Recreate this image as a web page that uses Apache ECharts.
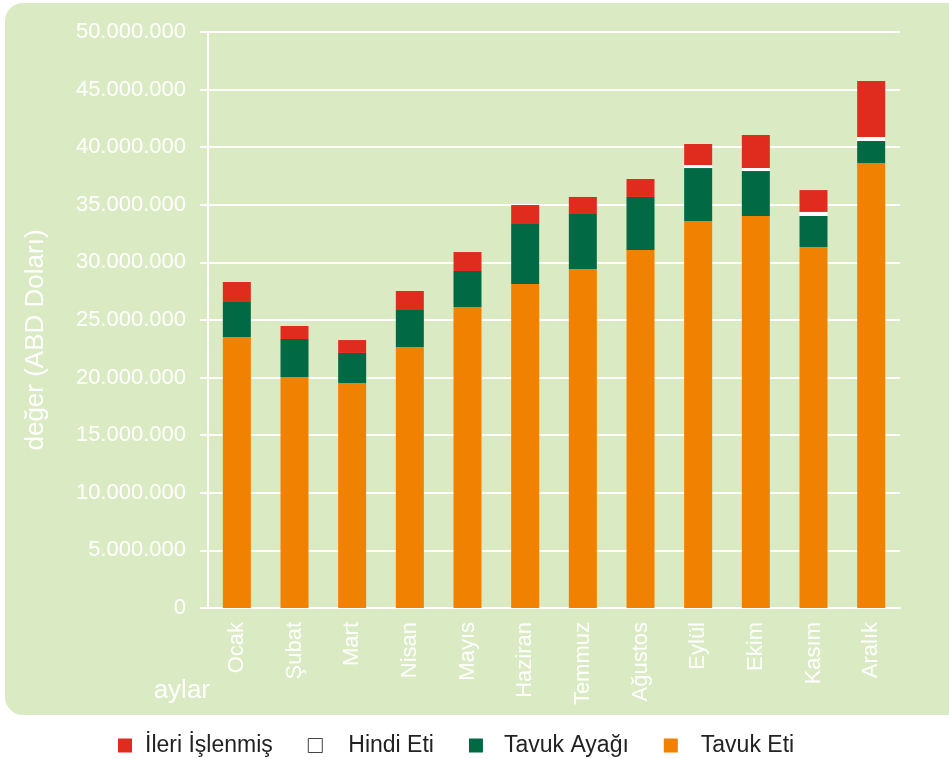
<!DOCTYPE html>
<html>
<head>
<meta charset="utf-8" />
<script src="https://cdn.jsdelivr.net/npm/echarts@6/dist/echarts.min.js"></script>
<style>
  html, body { margin: 0; padding: 0; background: #ffffff; }
  #chart-wrapper { width: 949px; height: 759px; }
</style>
</head>
<body>
<div id="chart-wrapper"></div>
<script>
// months on the x axis
const months = ["Ocak", "Şubat", "Mart", "Nisan", "Mayıs", "Haziran", "Temmuz", "Ağustos", "Eylül", "Ekim", "Kasım", "Aralık"];

// values in million USD
const tavukEti = [23.52, 20.05, 19.53, 22.66, 26.13, 28.13, 29.43, 31.08, 33.59, 34.03, 31.34, 38.63];
const tavukAyagi = [3.04, 3.30, 2.61, 3.21, 3.12, 5.20, 4.77, 4.60, 4.60, 3.90, 2.69, 1.91];
const hindiEti = [0, 0, 0, 0, 0, 0, 0, 0, 0.26, 0.26, 0.35, 0.35];
const ileriIslenmis = [1.74, 1.13, 1.12, 1.65, 1.65, 1.65, 1.48, 1.56, 1.83, 2.87, 1.90, 4.86];

const legendNames = ["İleri İşlenmiş", "Hindi Eti", "Tavuk Ayağı", "Tavuk Eti"];

// no narrow font around, so the regular one at a smaller size
const font = "'Liberation Sans', Arial, sans-serif";
const panelColor = "#daebc3";

const toUsd = (arr) => arr.map((v) => Math.round(v * 1000000));

const fmtDots = (v) => String(v).replace(/\B(?=(\d{3})+(?!\d))/g, ".");

const chartDom = document.getElementById("chart-wrapper");
const chart = echarts.init(chartDom, null, { renderer: "canvas" });

const makeSeries = (name, values, color) => ({
  name: name,
  type: "bar",
  stack: "total",
  barWidth: 28,
  data: toUsd(values),
  itemStyle: { color: color },
  emphasis: { disabled: true },
});

// legend entry with its own gap between square and text
const legendItem = (name, pad, extra) => ({
  name: name,
  textStyle: { padding: [0, 0, 0, pad] },
  ...extra,
});

const option = {
  animation: false,
  backgroundColor: "#ffffff",
  textStyle: { fontFamily: font },
  // rounded green panel behind the plot
  graphic: [
    {
      type: "rect",
      z: -10,
      shape: { x: 5, y: 3, width: 970, height: 712, r: 18 },
      style: { fill: panelColor },
    },
  ],
  grid: {
    left: 208,
    right: 49,
    top: 32,
    bottom: 151,
    containLabel: false,
  },
  legend: {
    data: [
      legendItem(legendNames[0], 8),
      legendItem(legendNames[1], 21, {
        itemStyle: { color: "#ffffff", borderColor: "#444444", borderWidth: 1 },
      }),
      legendItem(legendNames[2], 16),
      legendItem(legendNames[3], 18),
    ],
    left: 113,
    top: 729,
    icon: "rect",
    itemWidth: 14,
    itemHeight: 14,
    itemGap: 35,
    selectedMode: false,
    textStyle: {
      fontFamily: font,
      fontSize: 23,
      color: "#222222",
    },
  },
  xAxis: {
    type: "category",
    data: months,
    name: "aylar",
    nameLocation: "start",
    nameGap: -2,
    nameTextStyle: {
      color: "#ffffff",
      fontSize: 26,
      fontFamily: font,
      verticalAlign: "top",
      padding: [70, 0, 0, 0],
    },
    axisLine: { lineStyle: { color: "#ffffff", width: 2 } },
    axisTick: { length: 12, lineStyle: { color: "#ffffff", width: 2 } },
    axisLabel: {
      rotate: 90,
      margin: 14,
      color: "#ffffff",
      fontSize: 22,
      fontFamily: font,
    },
  },
  yAxis: {
    type: "value",
    min: 0,
    max: 50000000,
    interval: 5000000,
    name: "değer (ABD Doları)",
    nameLocation: "middle",
    nameGap: 159,
    nameRotate: 90,
    nameTextStyle: {
      color: "#ffffff",
      fontSize: 26,
      fontFamily: font,
      padding: [0, 40, 0, 0],
    },
    axisLine: { show: true, lineStyle: { color: "#ffffff", width: 2 } },
    axisTick: { show: true, length: 8, lineStyle: { color: "#ffffff", width: 2 } },
    splitLine: { lineStyle: { color: "#ffffff", width: 2 } },
    axisLabel: {
      margin: 22,
      color: "#ffffff",
      fontSize: 22,
      fontFamily: font,
      formatter: (v) => fmtDots(v),
    },
  },
  series: [
    makeSeries(legendNames[3], tavukEti, "#f18100"),
    makeSeries(legendNames[2], tavukAyagi, "#016a45"),
    makeSeries(legendNames[1], hindiEti, "#ffffff"),
    makeSeries(legendNames[0], ileriIslenmis, "#df2c1e"),
  ],
};

chart.setOption(option);
</script>
</body>
</html>
